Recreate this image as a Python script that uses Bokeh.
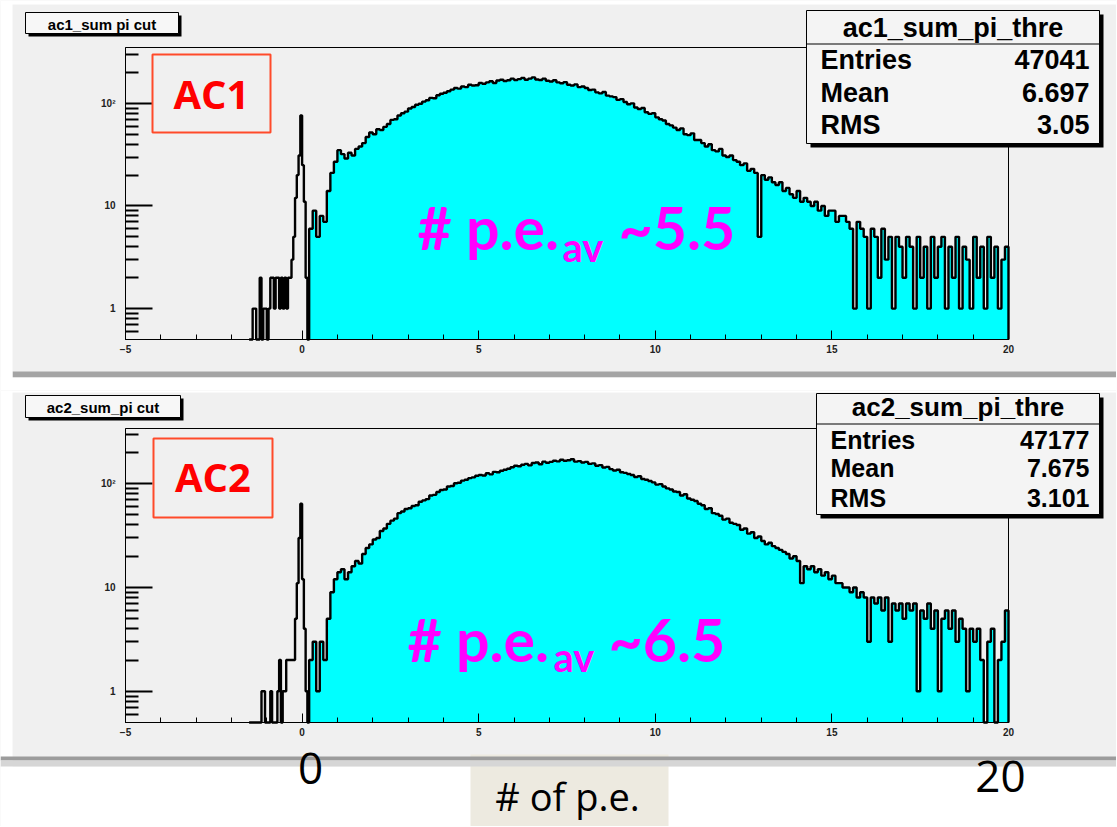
import numpy as np
from bokeh.plotting import figure
from bokeh.models import Range1d, FixedTicker, SingleIntervalTicker, Label, BoxAnnotation
from bokeh.layouts import column
from bokeh.embed import file_html
from bokeh.resources import INLINE

# ---------------- data ----------------
x_limits = [-5, 20]
pedestal_bin_start, pedestal_bin_width = -1.5, 0.05
main_bin_start, main_bin_width = 0.2, 0.1

# AC1: full histogram below threshold (black outline only), bins of 0.05 from -1.5
ac1_pedestal_counts = [0, 0, 1, 1, 0, 0, 2, 0, 1, 1,
                       0, 1, 2, 2, 1, 2, 2, 1, 2, 1,
                       2, 1, 2, 2, 3, 5, 12, 20, 31, 76,
                       25, 11, 2, 0]
# AC1: histogram above threshold (cyan), bins of 0.1 from 0.2 to 20
ac1_counts = [6, 9, 5, 8, 7, 14, 21, 27, 35, 32,
              29, 33, 31, 36, 38, 41, 47, 52, 50, 56,
              55, 59, 63, 69, 70, 76, 80, 83, 89, 92,
              97, 99, 104, 107, 113, 112, 120, 124, 127, 131,
              136, 141, 139, 146, 144, 152, 149, 150, 158, 155,
              160, 164, 158, 167, 170, 165, 168, 174, 169, 172,
              177, 170, 174, 179, 171, 169, 174, 166, 163, 168,
              160, 157, 161, 152, 149, 153, 144, 146, 141, 135,
              136, 128, 125, 129, 119, 117, 115, 108, 110, 103,
              98, 100, 91, 88, 90, 82, 79, 80, 73, 70,
              68, 63, 61, 58, 55, 57, 50, 49, 51, 44,
              44, 41, 38, 40, 35, 34, 36, 31, 30, 31,
              28, 27, 25, 26, 22, 23, 21, 5, 20, 18,
              19, 17, 16, 17, 14, 15, 13, 12, 14, 11,
              12, 11, 10, 11, 9, 10, 8, 9, 9, 7,
              8, 8, 7, 6, 1, 7, 6, 5, 1, 6,
              5, 2, 6, 3, 5, 1, 5, 4, 2, 5,
              4, 1, 5, 2, 4, 1, 5, 2, 4, 5,
              1, 4, 2, 5, 1, 4, 3, 1, 5, 2,
              4, 1, 5, 2, 4, 1, 3, 4]

ac2_pedestal_counts = [0, 0, 0, 0, 0, 0, 0, 1, 1, 0,
                       0, 0, 1, 0, 0, 0, 1, 2, 0, 1,
                       1, 2, 2, 2, 2, 2, 5, 11, 30, 64,
                       12, 4, 1, 0]
ac2_counts = [2, 3, 1, 3, 2, 5, 9, 12, 14, 15,
              12, 14, 16, 18, 17, 21, 24, 26, 29, 30,
              35, 37, 41, 44, 46, 52, 54, 57, 58, 61,
              62, 67, 69, 71, 77, 78, 83, 87, 88, 94,
              95, 101, 102, 107, 109, 113, 115, 119, 121, 120,
              126, 123, 130, 129, 133, 136, 139, 144, 149, 147,
              152, 155, 150, 158, 160, 154, 163, 159, 162, 166,
              164, 170, 166, 168, 172, 163, 165, 160, 162, 155,
              157, 149, 151, 143, 145, 138, 134, 136, 129, 127,
              124, 121, 116, 118, 111, 109, 106, 103, 98, 99,
              94, 90, 88, 84, 83, 77, 79, 72, 70, 68,
              64, 62, 57, 58, 52, 51, 49, 45, 46, 42,
              41, 40, 36, 37, 33, 34, 30, 31, 28, 26,
              27, 25, 24, 23, 22, 21, 19, 20, 18, 11,
              16, 15, 16, 14, 15, 13, 14, 12, 13, 11,
              11, 10, 10, 9, 10, 8, 9, 8, 3, 8,
              7, 8, 6, 8, 3, 7, 6, 7, 5, 7,
              6, 7, 1, 6, 5, 7, 4, 6, 1, 5,
              6, 4, 6, 3, 5, 4, 1, 4, 3, 4,
              2, 0, 3, 4, 0, 2, 3, 6]

y_tick_values = [1, 10, 100]
y_tick_labels = ["1", "10", "10\u00b2"]

stat_names = ["Entries", "Mean", "RMS"]
ac1_stat_values = ["47041", "6.697", "3.05"]
ac2_stat_values = ["47177", "7.675", "3.101"]

# ---------------- layout / style ----------------
PAGE_W = 1116
FRAME_LEFT, FRAME_RIGHT = 125, 1008
CANVAS_BG = "#f0f0f0"
CYAN = "#00ffff"
AXIS_FONT = "Liberation Sans"
MAGENTA = "#ff00ff"


def add_box(p, top0, l, t, r, b, fill=None, line=None, lw=1):
    p.add_layout(BoxAnnotation(left=l, right=r, top=t - top0, bottom=b - top0,
                               left_units="canvas", right_units="canvas",
                               top_units="canvas", bottom_units="canvas",
                               fill_color=fill, fill_alpha=1.0,
                               line_color=line, line_alpha=1.0, line_width=lw,
                               level="overlay"))


def add_text(p, top0, s, x, y, size, color="black", font=AXIS_FONT, style="bold",
             align="left"):
    p.add_layout(Label(x=x, y=y - top0, x_units="canvas", y_units="canvas", text=s,
                       text_font=font, text_font_size=f"{size}px", text_font_style=style,
                       text_color=color, text_align=align, text_baseline="middle",
                       level="overlay"))


def bin_edges(start, width, n):
    return start + width * np.arange(n + 1)


def panel(top0, height, frame_top, frame_bottom, y_min, y_max, ped_counts, main_counts):
    # the plotting frame covers the whole canvas; the ROOT frame is drawn inside it
    k = (x_limits[1] - x_limits[0]) / (FRAME_RIGHT - FRAME_LEFT)
    x_rng = Range1d(x_limits[0] - FRAME_LEFT * k, x_limits[1] + (PAGE_W - FRAME_RIGHT) * k)
    lo, hi = np.log10(y_min), np.log10(y_max)
    d = (hi - lo) / (frame_bottom - frame_top)
    y_rng = Range1d(10 ** (lo - (top0 + height - frame_bottom) * d),
                    10 ** (hi + (frame_top - top0) * d))
    p = figure(width=PAGE_W, height=height, x_range=x_rng, y_range=y_rng, y_axis_type="log",
               output_backend="svg", toolbar_location=None, title=None, min_border=0)
    p.background_fill_color = CANVAS_BG
    p.border_fill_color = CANVAS_BG
    p.outline_line_color = None
    p.grid.visible = False

    ped_e = bin_edges(pedestal_bin_start, pedestal_bin_width, len(ped_counts))
    main_e = bin_edges(main_bin_start, main_bin_width, len(main_counts))
    ped_v = np.maximum(np.array(ped_counts, dtype=float), y_min)
    main_v = np.maximum(np.array(main_counts, dtype=float), y_min)

    # cyan: events above threshold
    p.varea_step(x=main_e, y1=np.full(len(main_e), y_min), y2=np.append(main_v, main_v[-1]),
                 step_mode="after", fill_color=CYAN)
    # black outline: full histogram
    all_e = np.concatenate([ped_e[:-1], main_e])
    all_v = np.concatenate([ped_v, main_v])
    xs = np.concatenate([[all_e[0]], np.repeat(all_e, 2)[1:-1], [all_e[-1]]])
    ys = np.concatenate([[y_min], np.repeat(all_v, 2), [y_min]])
    p.line(xs, ys, line_color="black", line_width=2.4)

    # ROOT frame box
    p.add_layout(BoxAnnotation(left=x_limits[0], right=x_limits[1], bottom=y_min, top=y_max,
                               fill_color=None, line_color="black", line_alpha=1.0,
                               line_width=1, level="underlay"))

    p.xaxis.ticker = SingleIntervalTicker(interval=5, num_minor_ticks=5)
    p.xaxis.fixed_location = y_min
    p.xaxis.bounds = tuple(x_limits)
    minor = [m * dd for dd in (0.1, 1, 10, 100) for m in range(2, 10) if y_min < m * dd < y_max]
    p.yaxis.ticker = FixedTicker(ticks=y_tick_values, minor_ticks=minor)
    p.yaxis.major_label_overrides = dict(zip(y_tick_values, y_tick_labels))
    p.yaxis.fixed_location = x_limits[0]
    p.yaxis.bounds = (y_min, y_max)
    for ax in (p.xaxis, p.yaxis):
        ax.axis_line_color = "black"
        ax.major_tick_line_color = "black"
        ax.minor_tick_line_color = "black"
        ax.major_tick_out = 0
        ax.minor_tick_out = 0
        ax.major_label_text_font = AXIS_FONT
        ax.major_label_text_font_style = "bold"
        ax.major_label_text_font_size = "10px"
        ax.major_label_text_color = "#222222"
    p.xaxis.major_tick_in = 9
    p.xaxis.minor_tick_in = 5
    p.xaxis.major_label_standoff = 5
    p.yaxis.major_tick_in = 27
    p.yaxis.minor_tick_in = 13
    p.yaxis.major_tick_line_width = 2
    p.yaxis.minor_tick_line_width = 2
    p.yaxis.major_label_standoff = 10
    return p


def decorate(p, top0, height, title, stats_title, values, box, sep, title_y, row_ys, fs, tfs,
             name_x, tbox, tfont, ac_box, ac_text, ac_y, mag):
    # white page strip on the left
    add_box(p, top0, 0, top0, 12, top0 + height, fill="white")
    # pad title box
    l, t, r, b = tbox
    add_box(p, top0, l + 3, t + 3, r + 3, b + 3, fill="black")
    add_box(p, top0, l, t, r, b, fill="#f7f7f7", line="black")
    add_text(p, top0, title, (l + r) / 2, (t + b) / 2 + 1, tfont, align="center")
    # statistics box
    l, t, r, b = box
    add_box(p, top0, l + 4, t + 4, r + 4, b + 4, fill="black")
    add_box(p, top0, l, t, r, b, fill="#f4f4f4", line="black")
    add_box(p, top0, l, sep, r, sep + 1, fill="black")
    add_text(p, top0, stats_title, (l + r) / 2, title_y, tfs, align="center")
    for name, val, y in zip(stat_names, values, row_ys):
        add_text(p, top0, name, name_x, y, fs)
        add_text(p, top0, val, r - 10, y, fs, align="right")
    # AC label
    l, t, r, b = ac_box
    add_box(p, top0, l, t, r, b, fill=None, line="#ff4a2a", lw=2)
    add_text(p, top0, ac_text, (l + r) / 2, ac_y, 40, color="#ff0000", font="Open Sans",
             align="center")
    # magenta annotation
    (x1, x2, x3, mid, sub_mid, num) = mag
    add_text(p, top0, "# p.e.", x1, mid, 59, color=MAGENTA, font="Lato")
    add_text(p, top0, "av", x2, sub_mid, 40, color=MAGENTA, font="Lato")
    add_text(p, top0, "~" + num, x3, mid, 59, color=MAGENTA, font="Lato")


# top panel: page y 0..390
p1 = panel(0, 390, 47, 339, 0.5, 350, ac1_pedestal_counts, ac1_counts)
add_box(p1, 0, 0, 0, PAGE_W, 4, fill="white")
add_box(p1, 0, 12, 371, PAGE_W, 377, fill="#a4a4a4")
add_box(p1, 0, 0, 377, PAGE_W, 390, fill="white")
decorate(p1, 0, 390, "ac1_sum pi cut", "ac1_sum_pi_thre", ac1_stat_values,
         (806, 10, 1099, 143), 43, 27, [59, 92, 124], 27, 27, 820,
         (25, 12, 178, 33), 15, (152, 54, 270, 132), "AC1", 93,
         (417, 562, 618, 227, 246, "5.5"))

# bottom panel plus slide footer: page y 390..826
p2 = panel(390, 436, 428, 722, 0.5, 340, ac2_pedestal_counts, ac2_counts)
add_box(p2, 390, 0, 390, PAGE_W, 392, fill="white")
decorate(p2, 390, 436, "ac2_sum_pi cut", "ac2_sum_pi_thre", ac2_stat_values,
         (816, 393, 1099, 514), 423, 406, [439, 467, 497], 25, 26, 830,
         (25, 395, 180, 417), 15, (153, 438, 272, 517), "AC2", 476,
         (407, 553, 608, 639, 656, "6.5"))
# footer (below the ROOT canvas)
add_box(p2, 390, 0, 766, PAGE_W, 826, fill="white")
add_box(p2, 390, 470, 754, 668, 826, fill="#edeae0")
add_box(p2, 390, 0, 756, PAGE_W, 760, fill="#9c9c9c")
add_box(p2, 390, 0, 760, PAGE_W, 766, fill="#d6d6d6")
add_text(p2, 390, "0", 310, 768, 44, font="Open Sans", style="normal", align="center")
add_text(p2, 390, "20", 1000, 776, 44, font="Open Sans", style="normal", align="center")
add_text(p2, 390, "# of p.e.", 567, 795, 38, font="Open Sans", style="normal", align="center")

layout = column(p1, p2)
open("out.html", "w").write(file_html(layout, INLINE))
